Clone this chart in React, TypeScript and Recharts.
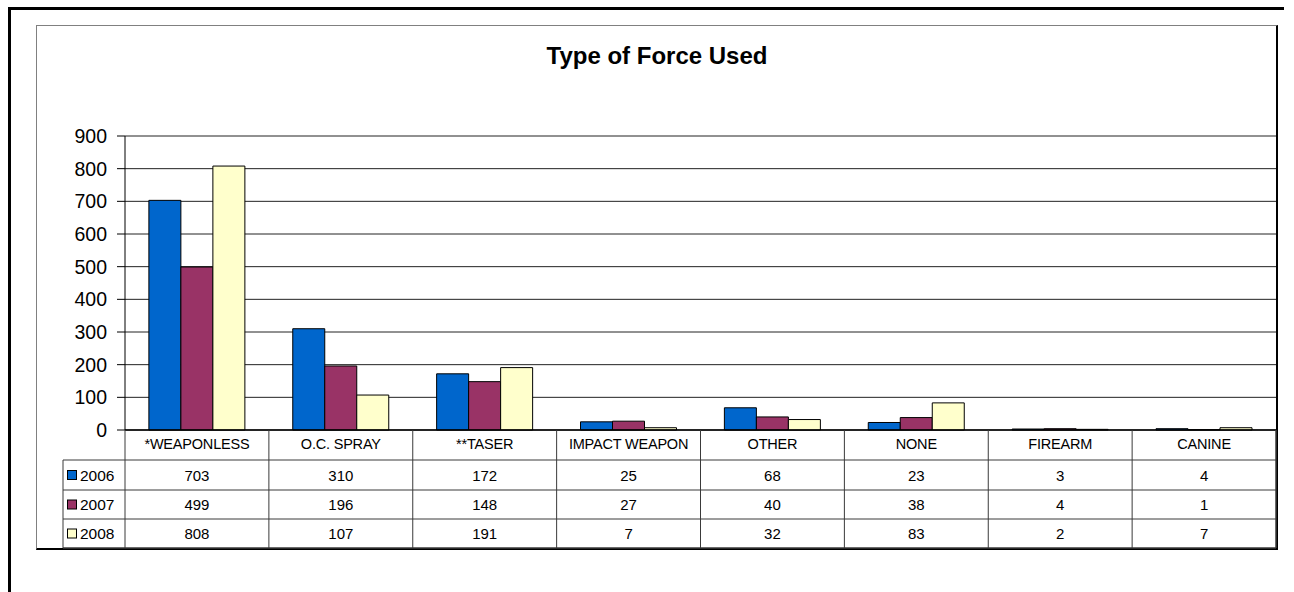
import React from 'react';
import { BarChart, Bar, XAxis, YAxis, CartesianGrid } from 'recharts';

const categories = ['*WEAPONLESS', 'O.C. SPRAY', '**TASER', 'IMPACT WEAPON', 'OTHER', 'NONE', 'FIREARM', 'CANINE'];
const years = ['2006', '2007', '2008'];
const values2006 = [703, 310, 172, 25, 68, 23, 3, 4];
const values2007 = [499, 196, 148, 27, 40, 38, 4, 1];
const values2008 = [808, 107, 191, 7, 32, 83, 2, 7];
const yTicks = [0, 100, 200, 300, 400, 500, 600, 700, 800, 900];
const colors = ['#0066CC', '#993366', '#FFFFCC'];
const series = [values2006, values2007, values2008];

const data = categories.map((c, i) => ({
  name: c,
  y2006: values2006[i],
  y2007: values2007[i],
  y2008: values2008[i],
}));

const W = 1294;
const H = 592;
const PLOT_LEFT = 125;
const PLOT_RIGHT = 1276;
const PLOT_TOP = 136;
const PLOT_BOTTOM = 430;
const Y_AXIS_W = 60;
const X_AXIS_H = 118;
const TABLE_LEFT = 63;
const ROW_LINES = [30, 60, 89, 118];
const FONT = '"Liberation Sans", Arial, sans-serif';
const LINE = '#3a3a3a';

function TableTick(props: any) {
  const { x, y, payload } = props;
  const idx = categories.indexOf(payload.value);
  const band = (PLOT_RIGHT - PLOT_LEFT) / categories.length;
  const left = x - band / 2;
  const right = x + band / 2;
  return (
    <g>
      <line x1={left} x2={left} y1={y} y2={y + X_AXIS_H} stroke={LINE} strokeWidth={1} />
      {idx === categories.length - 1 && (
        <line x1={right} x2={right} y1={y} y2={y + X_AXIS_H} stroke={LINE} strokeWidth={1.5} />
      )}
      {idx === 0 && (
        <g>
          {ROW_LINES.map((r, k) => (
            <line
              key={k}
              x1={TABLE_LEFT}
              x2={PLOT_RIGHT}
              y1={y + r}
              y2={y + r}
              stroke={LINE}
              strokeWidth={k === ROW_LINES.length - 1 ? 1.5 : 1}
            />
          ))}
          <line x1={TABLE_LEFT} x2={TABLE_LEFT} y1={y + ROW_LINES[0]} y2={y + X_AXIS_H} stroke={LINE} strokeWidth={1} />
          {years.map((yr, k) => {
            const cy = y + (ROW_LINES[k] + ROW_LINES[k + 1]) / 2;
            return (
              <g key={yr}>
                <rect x={TABLE_LEFT + 4.5} y={cy - 4.5} width={9} height={9} fill={colors[k]} stroke="#000" strokeWidth={1} />
                <text x={TABLE_LEFT + 17} y={cy} dominantBaseline="central" fontSize={15.5} fill="#000" fontFamily={FONT}>
                  {yr}
                </text>
              </g>
            );
          })}
        </g>
      )}
      <text x={x} y={y + 14} textAnchor="middle" dominantBaseline="central" fontSize={14.5} fill="#000" fontFamily={FONT} letterSpacing={-0.2}>
        {payload.value}
      </text>
      {series.map((s, k) => (
        <text
          key={k}
          x={x}
          y={y + (ROW_LINES[k] + ROW_LINES[k + 1]) / 2}
          textAnchor="middle"
          dominantBaseline="central"
          fontSize={15}
          fill="#000"
          fontFamily={FONT}
        >
          {s[idx]}
        </text>
      ))}
    </g>
  );
}

export default function App() {
  return (
    <div style={{ position: 'fixed', left: 0, top: 0, width: W, height: H, overflow: 'hidden', background: '#fff', fontFamily: FONT }}>
      <div
        style={{
          position: 'absolute',
          left: 8,
          top: 7,
          width: 1276,
          height: 600,
          borderTop: '3px solid #000',
          borderLeft: '3px solid #000',
          boxSizing: 'border-box',
        }}
      />
      <div
        style={{
          position: 'absolute',
          left: 36,
          top: 25,
          width: 1242,
          height: 525,
          borderTop: '1px solid #808080',
          borderLeft: '1px solid #808080',
          borderRight: '2px solid #000',
          borderBottom: '2px solid #000',
          boxSizing: 'border-box',
        }}
      />
      <div
        style={{
          position: 'absolute',
          left: 0,
          width: W,
          top: 42,
          textAlign: 'center',
          fontWeight: 'bold',
          fontSize: 24,
          fontFamily: FONT,
          color: '#000',
          paddingLeft: 20,
          boxSizing: 'border-box',
        }}
      >
        Type of Force Used
      </div>
      <div style={{ position: 'absolute', left: 0, top: 0 }}>
        <BarChart
          width={W}
          height={H}
          data={data}
          margin={{ top: PLOT_TOP, left: PLOT_LEFT - Y_AXIS_W, right: W - PLOT_RIGHT, bottom: H - PLOT_BOTTOM - X_AXIS_H }}
          barGap={0}
          barCategoryGap="16.6%"
        >
          <CartesianGrid horizontal vertical={false} stroke="#222" strokeWidth={1} />
          <XAxis
            dataKey="name"
            interval={0}
            height={X_AXIS_H}
            tickLine={false}
            tickSize={0}
            tickMargin={0}
            axisLine={{ stroke: '#000', strokeWidth: 1.5 }}
            tick={<TableTick />}
          />
          <YAxis
            width={Y_AXIS_W}
            domain={[0, 900]}
            ticks={yTicks}
            interval={0}
            tickSize={8}
            tickMargin={10}
            axisLine={{ stroke: '#000' }}
            tickLine={{ stroke: '#000' }}
            tick={{ fontSize: 19.5, fill: '#000', fontFamily: FONT }}
          />
          <YAxis
            yAxisId="right"
            orientation="right"
            width={0}
            domain={[0, 900]}
            tick={false}
            tickLine={false}
            axisLine={{ stroke: '#808080', strokeWidth: 1.5 }}
          />
          <Bar dataKey="y2006" name="2006" fill={colors[0]} stroke="#000" strokeWidth={1} isAnimationActive={false} />
          <Bar dataKey="y2007" name="2007" fill={colors[1]} stroke="#000" strokeWidth={1} isAnimationActive={false} />
          <Bar dataKey="y2008" name="2008" fill={colors[2]} stroke="#000" strokeWidth={1} isAnimationActive={false} />
        </BarChart>
      </div>
    </div>
  );
}
